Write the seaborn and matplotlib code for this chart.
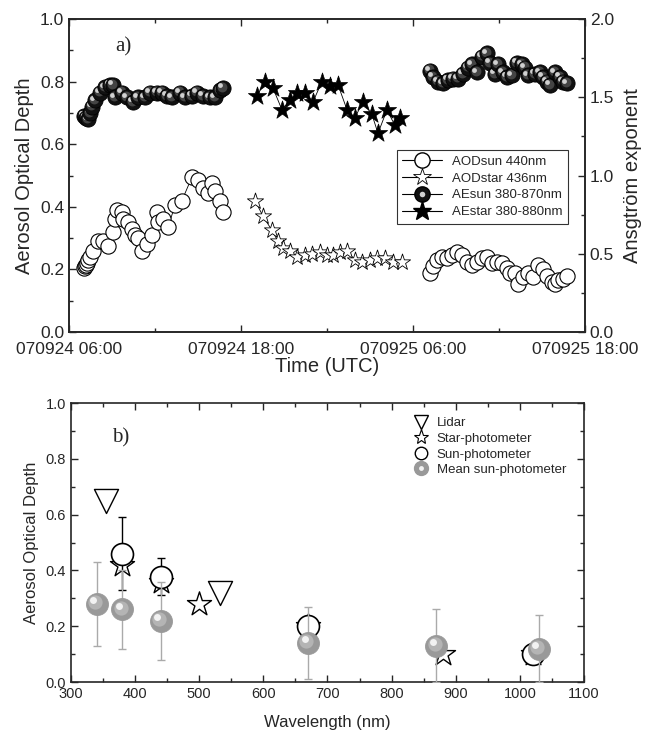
import numpy as np
import pandas as pd
import seaborn as sns
import matplotlib.pyplot as plt
from matplotlib.lines import Line2D
from matplotlib.legend_handler import HandlerTuple
from matplotlib.ticker import MultipleLocator
from matplotlib.transforms import offset_copy
import matplotlib.dates as mdates

sns.set_style("ticks")
plt.rcParams["font.family"] = ["Liberation Sans", "DejaVu Sans"]

# panel a) -- hours after 070924 00:00 UTC
aod_sun_h1 = [7.05, 7.12, 7.19, 7.26, 7.33, 7.47, 7.67, 8.02, 8.37, 8.72, 9.07, 9.21,
              9.35, 9.70, 9.77, 10.12, 10.40, 10.61, 10.81, 11.09, 11.44, 11.79, 12.14,
              12.21, 12.56, 12.91, 13.40, 13.88, 14.58, 15.00, 15.35, 15.70, 15.98,
              16.19, 16.54, 16.74]
aod_sun_1 = [0.205, 0.21, 0.215, 0.22, 0.23, 0.24, 0.26, 0.29, 0.29, 0.275, 0.32, 0.36,
             0.39, 0.385, 0.36, 0.35, 0.33, 0.31, 0.30, 0.26, 0.28, 0.31, 0.385,
             0.35, 0.36, 0.335, 0.405, 0.42, 0.495, 0.485, 0.46, 0.445, 0.475,
             0.45, 0.42, 0.385]
aod_sun_h2 = [31.19, 31.40, 31.67, 32.02, 32.37, 32.72, 33.07, 33.42, 33.77, 34.12,
              34.47, 34.81, 35.16, 35.51, 35.86, 36.21, 36.56, 36.77, 37.12, 37.33,
              37.68, 38.02, 38.37, 38.72, 39.07, 39.35, 39.70, 39.91, 40.12, 40.47, 40.74]
aod_sun_2 = [0.19, 0.21, 0.23, 0.24, 0.235, 0.245, 0.255, 0.245, 0.225, 0.215,
             0.225, 0.235, 0.24, 0.22, 0.225, 0.22, 0.205, 0.19, 0.19, 0.155,
             0.175, 0.19, 0.175, 0.215, 0.20, 0.18, 0.16, 0.155, 0.165, 0.17, 0.18]

aod_star_h = [18.98, 19.54, 20.16, 20.58, 20.93, 21.42, 21.91, 22.47, 22.95, 23.51,
              24.00, 24.42, 24.91, 25.40, 25.95, 26.44, 27.00, 27.49, 28.05, 28.61, 29.23]
aod_star = [0.42, 0.37, 0.325, 0.29, 0.27, 0.26, 0.24, 0.245, 0.25, 0.255,
            0.245, 0.245, 0.255, 0.26, 0.23, 0.225, 0.23, 0.235, 0.235, 0.225, 0.225]

ae_sun_h1 = [7.05, 7.19, 7.33, 7.47, 7.60, 7.81, 8.16, 8.51, 8.86, 9.07, 9.21, 9.70,
             10.05, 10.47, 10.81, 11.30, 11.65, 12.14, 12.49, 12.84, 13.19, 13.74,
             14.09, 14.58, 14.93, 15.35, 15.84, 16.19, 16.54, 16.74]
ae_sun_1 = [1.38, 1.37, 1.36, 1.40, 1.44, 1.48, 1.53, 1.565, 1.58, 1.58, 1.50, 1.53,
            1.50, 1.47, 1.50, 1.50, 1.53, 1.53, 1.53, 1.51, 1.50, 1.53,
            1.50, 1.51, 1.53, 1.51, 1.50, 1.50, 1.545, 1.56]
ae_sun_h2 = [31.19, 31.40, 31.75, 32.09, 32.44, 32.79, 33.14, 33.49, 33.84, 34.12,
             34.47, 34.81, 35.16, 35.37, 35.72, 35.93, 36.28, 36.56, 36.91, 37.26,
             37.61, 37.81, 38.02, 38.51, 38.86, 39.07, 39.35, 39.56, 39.91, 40.26,
             40.47, 40.74]
ae_sun_2 = [1.67, 1.63, 1.60, 1.59, 1.61, 1.62, 1.62, 1.65, 1.69, 1.71,
            1.66, 1.76, 1.78, 1.72, 1.65, 1.71, 1.66, 1.63, 1.64, 1.72,
            1.71, 1.69, 1.64, 1.65, 1.66, 1.63, 1.60, 1.58, 1.66, 1.63,
            1.60, 1.59]

ae_star_h = [19.12, 19.68, 20.23, 20.86, 21.42, 21.91, 22.47, 23.02, 23.65, 24.21,
             24.77, 25.40, 25.95, 26.51, 27.14, 27.56, 28.19, 28.74, 29.09]
ae_star = [1.51, 1.60, 1.56, 1.42, 1.48, 1.53, 1.53, 1.47, 1.60, 1.57,
           1.58, 1.42, 1.37, 1.47, 1.39, 1.27, 1.42, 1.32, 1.37]

legend_a = ["AODsun 440nm", "AODstar 436nm", "AEsun 380-870nm", "AEstar 380-880nm"]

# panel b) -- AOD vs wavelength
lidar_wl = [355, 532]
lidar_aod = [0.65, 0.32]
star_wl = [380, 440, 500, 670, 880, 1020]
star_aod = [0.42, 0.36, 0.28, 0.20, 0.10, 0.10]
sun_wl = [380, 440, 670, 1020]
sun_aod = [0.46, 0.378, 0.20, 0.10]
sun_err = [0.13, 0.067, 0.0, 0.0]
mean_wl = [340, 380, 440, 670, 870, 1030]
mean_aod = [0.28, 0.26, 0.22, 0.14, 0.13, 0.12]
mean_err = [0.15, 0.14, 0.14, 0.13, 0.13, 0.12]

legend_b = ["Lidar", "Star-photometer", "Sun-photometer", "Mean sun-photometer"]

t0 = pd.Timestamp("2007-09-24 00:00")


def to_time(hours):
    return (t0 + pd.to_timedelta(np.asarray(hours), unit="h")).to_numpy()


def draw_spheres(ax, xs, ys, s, body, mid, shine, edge, z):
    d = np.sqrt(s)
    mid_tr = offset_copy(ax.transData, fig=ax.figure, x=-0.08 * d, y=0.08 * d, units="points")
    hi_tr = offset_copy(ax.transData, fig=ax.figure, x=-0.17 * d, y=0.17 * d, units="points")
    for i, (x, y) in enumerate(zip(xs, ys)):
        zz = z + i * 0.001
        ax.scatter([x], [y], s=s, c=body, edgecolors=edge, linewidths=0.6, zorder=zz)
        ax.scatter([x], [y], s=s * 0.42, c=mid, linewidths=0, transform=mid_tr, zorder=zz + 0.0003)
        ax.scatter([x], [y], s=s * 0.10, c=shine, linewidths=0, transform=hi_tr, zorder=zz + 0.0006)


fig = plt.figure(figsize=(6.47, 7.32), dpi=100)
ax1 = fig.add_axes([0.1066, 0.5464, 0.7975, 0.4276])
ax2 = ax1.twinx()
axb = fig.add_axes([0.1097, 0.0683, 0.7929, 0.3811])

# ---------------- panel a ----------------
line_kw = dict(color="black", lw=0.6, estimator=None, sort=False, legend=False)
for hh, vv in [(aod_sun_h1, aod_sun_1), (aod_sun_h2, aod_sun_2)]:
    sns.lineplot(x=to_time(hh), y=vv, ax=ax1, zorder=2, **line_kw)
    sns.scatterplot(x=to_time(hh), y=vv, ax=ax1, marker="o", s=120, color="white",
                    edgecolor="black", linewidth=0.8, zorder=3, legend=False)
sns.lineplot(x=to_time(aod_star_h), y=aod_star, ax=ax1, zorder=2, **line_kw)
sns.scatterplot(x=to_time(aod_star_h), y=aod_star, ax=ax1, marker="*", s=150, color="white",
                edgecolor="black", linewidth=0.6, zorder=3, legend=False)

for hh, vv in [(ae_sun_h1, ae_sun_1), (ae_sun_h2, ae_sun_2)]:
    sns.lineplot(x=to_time(hh), y=vv, ax=ax2, zorder=2, **line_kw)
    draw_spheres(ax2, to_time(hh), vv, 120, "#111111", "#444444", "#d0d0d0", "black", 3)
sns.lineplot(x=to_time(ae_star_h), y=ae_star, ax=ax2, zorder=2, **line_kw)
sns.scatterplot(x=to_time(ae_star_h), y=ae_star, ax=ax2, marker="*", s=190, color="black",
                edgecolor="black", linewidth=0.5, zorder=3, legend=False)

ax1.set_xlim(t0 + pd.Timedelta(hours=6), t0 + pd.Timedelta(hours=42))
ax1.set_ylim(0, 1)
ax2.set_ylim(0, 2)
ax1.xaxis.set_major_locator(mdates.HourLocator(byhour=[6, 18]))
ax1.xaxis.set_minor_locator(mdates.HourLocator(byhour=[0, 12]))
ax1.xaxis.set_major_formatter(mdates.DateFormatter("%y%m%d %H:%M"))
ax1.yaxis.set_major_locator(MultipleLocator(0.2))
ax1.yaxis.set_minor_locator(MultipleLocator(0.1))
ax2.yaxis.set_major_locator(MultipleLocator(0.5))
ax2.yaxis.set_minor_locator(MultipleLocator(0.25))

ax1.tick_params(which="both", direction="in", top=True, right=False, labelsize=12.5, width=1)
ax1.tick_params(axis="x", pad=7.5)
ax1.tick_params(which="major", length=5)
ax1.tick_params(which="minor", length=3)
ax2.tick_params(which="both", direction="in", right=True, labelsize=12.5, width=1)
ax2.tick_params(which="major", length=5)
ax2.tick_params(which="minor", length=3)
ax1.set_xlabel("Time (UTC)", fontsize=14.5, labelpad=-0.5)
ax1.set_ylabel("Aerosol Optical Depth", fontsize=14.5, labelpad=4)
ax2.set_ylabel("Ansgtröm exponent", fontsize=14.5, labelpad=6)
for a in (ax1, ax2):
    for sp in a.spines.values():
        sp.set_linewidth(1.2)
        sp.set_visible(True)

ax1.text(0.105, 0.91, "a)", transform=ax1.transAxes, fontsize=15,
         family="Liberation Serif", ha="center", va="center")

tuple_handler = {tuple: HandlerTuple(ndivide=1, pad=0)}
handles_a = [
    Line2D([], [], color="black", lw=0.8, marker="o", ms=11, mfc="white", mec="black"),
    Line2D([], [], color="black", lw=0.8, marker="*", ms=13, mfc="white", mec="black", mew=0.6),
    (Line2D([], [], color="black", lw=0.8, marker="o", ms=11, mfc="#111111", mec="black"),
     Line2D([], [], ls="none", marker="o", ms=4, mfc="#d0d0d0", mec="none")),
    Line2D([], [], color="black", lw=0.8, marker="*", ms=14, mfc="black", mec="black"),
]
leg_a = ax2.legend(handles_a, legend_a, loc="upper right", bbox_to_anchor=(0.967, 0.581),
                   borderaxespad=0, fontsize=9.5, frameon=True, fancybox=False,
                   edgecolor="black", handlelength=3.0, labelspacing=0.35,
                   handletextpad=0.8, borderpad=0.4, handler_map=tuple_handler)
leg_a.get_frame().set_linewidth(0.8)
leg_a.set_zorder(10)

# ---------------- panel b ----------------
sns.scatterplot(x=lidar_wl, y=lidar_aod, ax=axb, marker="v", s=300, color="white",
                edgecolor="black", linewidth=1.0, zorder=3, legend=False)
sns.scatterplot(x=star_wl, y=star_aod, ax=axb, marker="*", s=330, color="white",
                edgecolor="black", linewidth=1.0, zorder=3, legend=False)
axb.errorbar(sun_wl, sun_aod, yerr=sun_err, fmt="none", ecolor="black", elinewidth=1.0,
             capsize=3, capthick=1.0, zorder=4)
sns.scatterplot(x=sun_wl, y=sun_aod, ax=axb, marker="o", s=250, color="white",
                edgecolor="black", linewidth=1.2, zorder=5, legend=False)
axb.errorbar(mean_wl, mean_aod, yerr=mean_err, fmt="none", ecolor="#aaaaaa", elinewidth=1.0,
             capsize=3, capthick=1.0, zorder=6)
draw_spheres(axb, mean_wl, mean_aod, 250, "#999999", "#b4b4b4", "#f2f2f2", "#999999", 7)

axb.set_xlim(300, 1100)
axb.set_ylim(0, 1)
axb.xaxis.set_major_locator(MultipleLocator(100))
axb.xaxis.set_minor_locator(MultipleLocator(50))
axb.yaxis.set_major_locator(MultipleLocator(0.2))
axb.yaxis.set_minor_locator(MultipleLocator(0.1))
axb.tick_params(which="both", direction="in", top=True, right=True, labelsize=10.5, width=1)
axb.tick_params(which="major", length=5)
axb.tick_params(which="minor", length=3)
axb.set_xlabel("Wavelength (nm)", fontsize=12, labelpad=10)
axb.set_ylabel("Aerosol Optical Depth", fontsize=12, labelpad=5)
for sp in axb.spines.values():
    sp.set_linewidth(1.2)
    sp.set_visible(True)

axb.text(0.097, 0.875, "b)", transform=axb.transAxes, fontsize=15,
         family="Liberation Serif", ha="center", va="center")

handles_b = [
    Line2D([], [], ls="none", marker="v", ms=10, mfc="white", mec="black"),
    Line2D([], [], ls="none", marker="*", ms=11, mfc="white", mec="black", mew=0.8),
    Line2D([], [], ls="none", marker="o", ms=9, mfc="white", mec="black"),
    (Line2D([], [], ls="none", marker="o", ms=10, mfc="#999999", mec="#999999"),
     Line2D([], [], ls="none", marker="o", ms=3.5, mfc="#f2f2f2", mec="none")),
]
axb.legend(handles_b, legend_b, loc="upper left", bbox_to_anchor=(0.656, 0.968),
           borderaxespad=0, fontsize=9.5, frameon=False, handlelength=1.2,
           labelspacing=0.25, handletextpad=0.6, handler_map=tuple_handler)

fig.savefig("out.png", dpi=100)
